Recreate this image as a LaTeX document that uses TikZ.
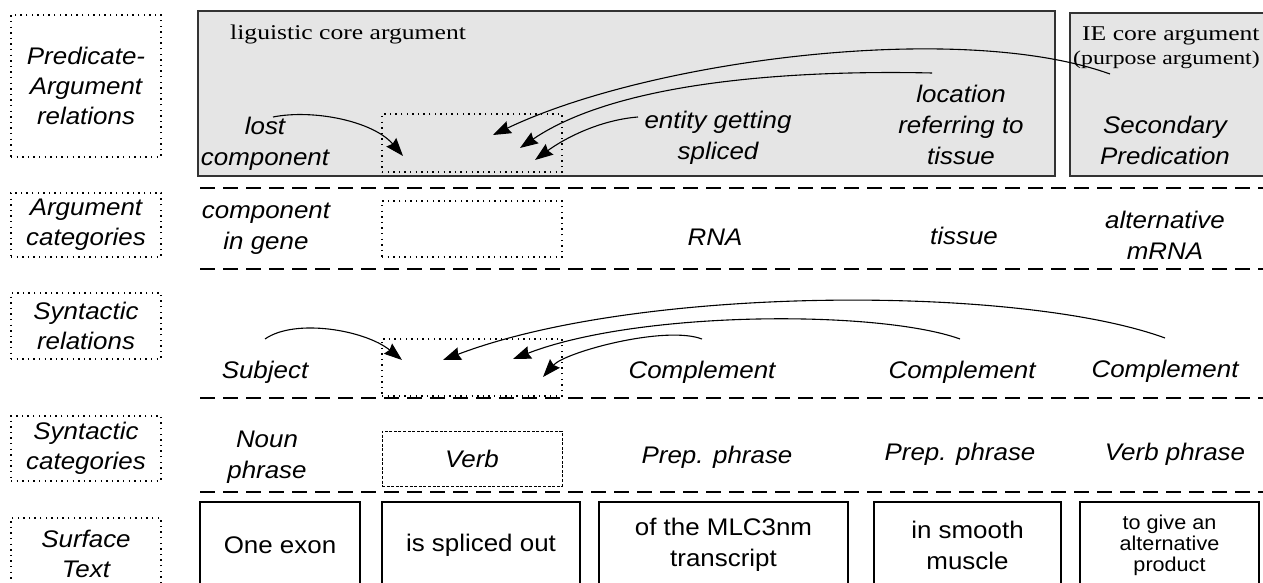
\documentclass[tikz,border=0pt]{standalone}
\usepackage{fontspec}
\setsansfont{Liberation Sans}[FakeStretch=1.08]
\newfontfamily\wideserif{Liberation Serif}[FakeStretch=1.22]
\usetikzlibrary{arrows.meta}

\begin{document}
\begin{tikzpicture}[x=1pt,y=-1pt,>={Stealth[length=18pt,width=13pt,inset=2pt]},
        lvl/.style={draw,dash pattern=on 1.4pt off 4.2pt,line width=1.4pt,minimum width=150pt,
                    inner sep=0pt,align=center,font=\sffamily\itshape\fontsize{24}{30}\selectfont},
        cat/.style={align=center,inner sep=0pt,font=\sffamily\itshape\fontsize{24}{31}\selectfont},
        slot/.style={draw,dash pattern=on 1.4pt off 4.2pt,line width=1.4pt,minimum width=180pt,inner sep=0pt},
        surf/.style={draw,line width=1.2pt,inner sep=0pt,align=center,minimum height=86pt,
                     font=\sffamily\fontsize{24}{31}\selectfont},
        core/.style={fill=gray!20,draw=black!80,line width=1.6pt},
        sep/.style={dash pattern=on 15pt off 8pt,line width=1.5pt},
        rel/.style={->,line width=1.1pt}]
                \useasboundingbox (0,0) rectangle (1263,583);

                \node[lvl,minimum height=142pt] (predarg) at (86,86)    {Predicate-\\Argument\\relations};
                \node[lvl,minimum height=64pt]  (argcat)  at (86,225)   {Argument\\categories};
                \node[lvl,minimum height=66pt]  (synrel)  at (86,326)   {Syntactic\\relations};
                \node[lvl,minimum height=65pt]  (syncat)  at (86,448.5) {Syntactic\\categories};
                \node[lvl,minimum height=72pt]  (surface) at (86,554)   {Surface\\Text};

                \draw[core] (198,11) rectangle (1055,176);
                \draw[core] (1070,13) rectangle (1275,176);
                \node[anchor=base west,inner sep=0pt,font=\wideserif\fontsize{21}{25}\selectfont]
                        (lingcore) at (230,40) {liguistic core argument};
                \node[anchor=base west,inner sep=0pt,font=\wideserif\fontsize{21}{25}\selectfont]
                        (iecore) at (1082,41) {IE core argument};
                \node[anchor=base west,inner sep=0pt,font=\wideserif\fontsize{19.5}{25}\selectfont]
                        (purpose) at (1073,65) {(purpose argument)};

                \foreach \y in {188,269,398,492}
                        \draw[sep] (200,\y) -- (1275,\y);

                \node[slot,minimum height=58pt] (paslot) at (472,143)   {};
                \node[slot,minimum height=56pt] (acslot) at (472,229)   {};
                \node[slot,minimum height=57pt] (srslot) at (472,367.5) {};
                \node[draw,dash pattern=on 3pt off 1.6pt,line width=1pt,minimum width=180pt,
                      minimum height=55pt,cat] (verb) at (472,458.5) {Verb};

                \node[cat] (lost)      at (265,144)   {lost\\component};
                \node[cat] (entity)    at (718,137.5) {entity getting\\spliced};
                \node[cat] (location)  at (961,124.5) {location\\referring to\\tissue};
                \node[cat] (secondary) at (1165,140)  {Secondary\\Predication};

                \node[cat] (compgene)           at (266,229) {component\\in gene};
                \node[cat,anchor=base] (rna)    at (715,245) {RNA};
                \node[cat,anchor=base] (tissue) at (964,244) {tissue};
                \node[cat] (altmrna)            at (1165,235) {alternative\\mRNA};

                \node[cat,anchor=base] (subject) at (265,378)  {Subject};
                \node[cat,anchor=base] (compl1)  at (702,378)  {Complement};
                \node[cat,anchor=base] (compl2)  at (962,378)  {Complement};
                \node[cat,anchor=base] (compl3)  at (1165,377) {Complement};

                \node[cat] (nounphr)            at (267,457.5) {Noun\\phrase};
                \node[cat,anchor=base] (prep1)  at (717,463)   {Prep. phrase};
                \node[cat,anchor=base] (prep2)  at (960,460)   {Prep. phrase};
                \node[cat,anchor=base] (verbphr) at (1175,460) {Verb phrase};

                \node[surf,minimum width=160pt] (onexon)  at (280,545)    {One exon};
                \node[surf,minimum width=198pt] (spliced) at (481,545)    {is spliced out};
                \node[surf,minimum width=249pt] (mlc)     at (723.5,545)  {of the MLC3nm\\transcript};
                \node[surf,minimum width=187pt] (muscle)  at (967.5,545)  {in smooth\\muscle};
                \node[surf,minimum width=179pt,font=\sffamily\fontsize{20}{21}\selectfont]
                        (product) at (1169.5,545) {to give an\\alternative\\product};

                \coordinate (lost-s) at (273,117);
                \coordinate (ent-s)  at (638,117);
                \coordinate (loc-s)  at (932,73);
                \coordinate (sec-s)  at (1110,74);
                \coordinate (pa-t1)  at (403,156);
                \coordinate (pa-t2)  at (493,135);
                \coordinate (pa-t3)  at (520,148);
                \coordinate (pa-t4)  at (535,160);

                \coordinate (subj-s) at (265,339);
                \coordinate (c1-s)   at (702,339);
                \coordinate (c2-s)   at (960,339);
                \coordinate (c3-s)   at (1165,338);
                \coordinate (sr-t1)  at (402,360);
                \coordinate (sr-t2)  at (443,360);
                \coordinate (sr-t3)  at (513,359);
                \coordinate (sr-t4)  at (543,377);

                \draw[rel] (lost-s) .. controls +(40,-8) and +(-30,-35) .. (pa-t1);
                \draw[rel] (sec-s) .. controls +(-150,-54) and +(157,-75) .. (pa-t2);
                \draw[rel] (loc-s) .. controls +(-132,-3) and +(100,-68) .. (pa-t3);
                \draw[rel] (ent-s) .. controls +(-38,3) and +(30,-22) .. (pa-t4);

                \draw[rel] (subj-s) .. controls +(30,-21) and +(-37,-30) .. (sr-t1);
                \draw[rel] (c3-s) .. controls +(-145,-53) and +(197,-75) .. (sr-t2);
                \draw[rel] (c2-s) .. controls +(-80,-29) and +(127,-49) .. (sr-t3);
                \draw[rel] (c1-s) .. controls +(-37,-14) and +(22,-25) .. (sr-t4);
\end{tikzpicture}
\end{document}
